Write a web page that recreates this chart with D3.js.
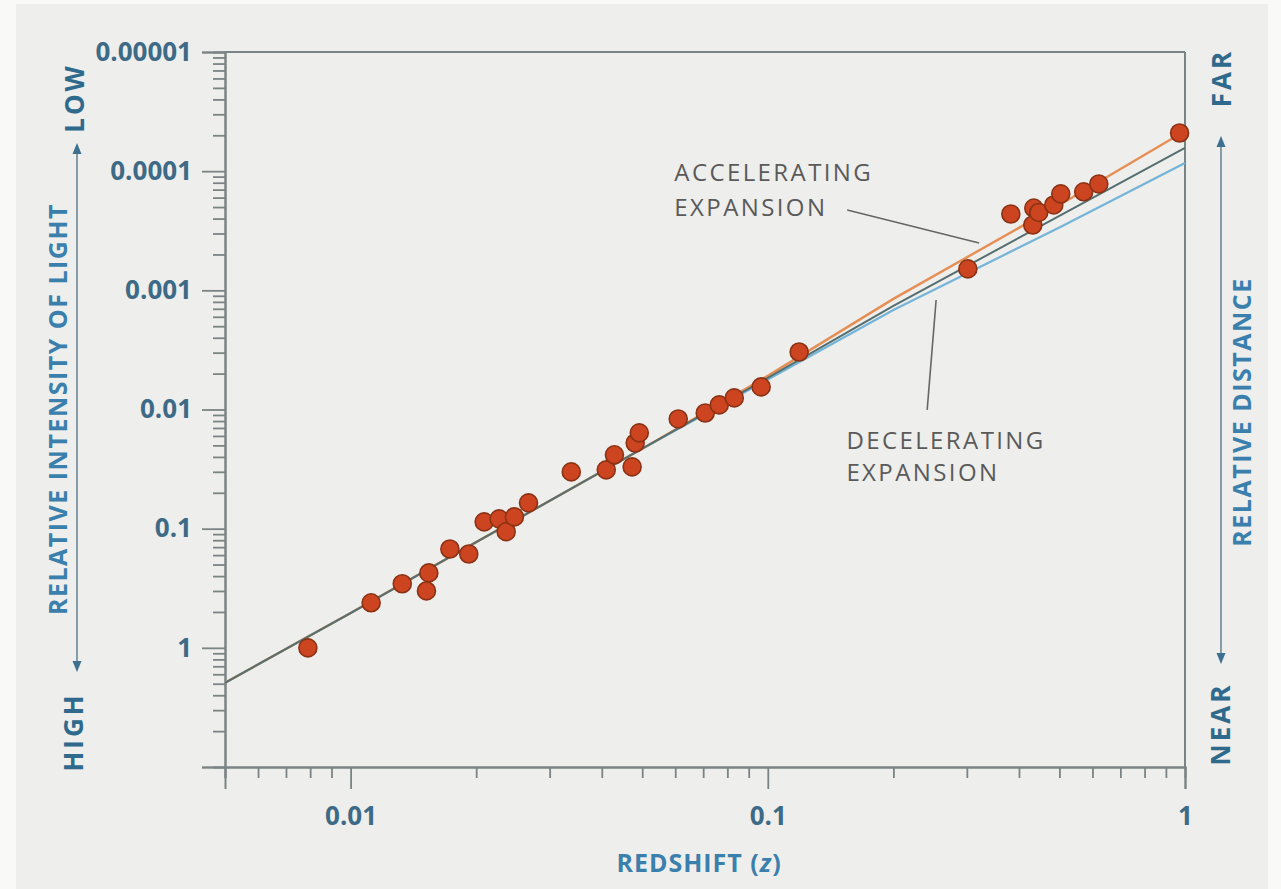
<!DOCTYPE html>
<html>
<head>
<meta charset="utf-8">
<script src="https://cdn.jsdelivr.net/npm/d3@7"></script>
<style>
  html, body { margin: 0; padding: 0; background: #f9f9f8; }
  svg { display: block; }
  text { font-family: "Open Sans", "Noto Sans", sans-serif; }
</style>
</head>
<body>
<svg id="chart" width="1281" height="889"></svg>
<script>
// ---------- DATA ----------
// Supernova observations: redshift z and relative intensity of light
const sneZ = [0.0079, 0.0112, 0.0133, 0.0154, 0.0152, 0.0173, 0.0192, 0.0209, 0.0227, 0.0236, 0.0247, 0.0267,
  0.0338, 0.0410, 0.0429, 0.0473, 0.0481, 0.0492, 0.0610, 0.0708, 0.0765, 0.0831, 0.0964, 0.1189,
  0.3016, 0.3824, 0.4317, 0.4341, 0.4462, 0.4847, 0.5037, 0.5718, 0.6214, 0.9706];
const sneI = [1.0, 0.419, 0.290, 0.235, 0.333, 0.148, 0.163, 0.0877, 0.0827, 0.106, 0.0796, 0.0607,
  0.0334, 0.0321, 0.0240, 0.0303, 0.0191, 0.0157, 0.0120, 0.0107, 0.00915, 0.00799, 0.00646, 0.00329,
  0.000661, 0.000229, 0.000283, 0.000204, 0.000222, 0.000192, 0.000155, 0.000149, 0.000128, 0.0000478];

// Model curves at these redshifts
const modelZ = [0.005, 0.01, 0.02, 0.05, 0.1, 0.2, 0.5, 1];
const accelI = [1.966, 0.5105, 0.1298, 0.02133, 0.005224, 0.00118, 0.000192, 0.0000460];
const middleI = [1.966, 0.5105, 0.1298, 0.02133, 0.005432, 0.001352, 0.0002375, 0.0000639];
const decelI = [1.966, 0.5105, 0.1298, 0.02133, 0.005592, 0.00146, 0.000297, 0.0000853];

// Axis ticks
const xMajorTicks = [0.01, 0.1, 1];
const xMajorLabels = ["0.01", "0.1", "1"];
const xMinorTicks = [0.005, 0.006, 0.007, 0.008, 0.009, 0.02, 0.03, 0.04, 0.05, 0.06, 0.07, 0.08, 0.09,
  0.2, 0.3, 0.4, 0.5, 0.6, 0.7, 0.8, 0.9];
const yMajorTicks = [10, 1, 0.1, 0.01, 0.001, 0.0001, 0.00001];
const yMajorLabels = ["", "1", "0.1", "0.01", "0.001", "0.0001", "0.00001"];
const yDecadeTops = [10, 1, 0.1, 0.01, 0.001, 0.0001];
const yMinorDivisors = [2, 3, 4, 5, 6, 7, 8, 9];

// ---------- LAYOUT ----------
const svg = d3.select("#chart");
svg.append("rect").attr("x", 16).attr("y", 4).attr("width", 1252).attr("height", 885).attr("fill", "#eeeeec");

const x = d3.scaleLog().domain([0.005, 1]).range([225, 1185]);
const y = d3.scaleLog().domain([10, 0.00001]).range([767, 52]);

const axisColor = "#7a8484";
const tickLabelColor = "#3d6a86";
const titleColor = "#3b80ad";
const annColor = "#5a5a5a";

// frame (top + right)
svg.append("line").attr("x1", x.range()[0]).attr("x2", x.range()[1]).attr("y1", y.range()[1]).attr("y2", y.range()[1])
  .attr("stroke", axisColor).attr("stroke-width", 2);
svg.append("line").attr("x1", x.range()[1]).attr("x2", x.range()[1]).attr("y1", y.range()[0]).attr("y2", y.range()[1])
  .attr("stroke", axisColor).attr("stroke-width", 2);

// Y axis
const yMinorTicks = [];
yDecadeTops.forEach(t => yMinorDivisors.forEach(k => yMinorTicks.push(t / k)));

const gyMinor = svg.append("g").attr("transform", `translate(${x.range()[0]},0)`)
  .call(d3.axisLeft(y).tickValues(yMinorTicks).tickSize(12).tickFormat(""));
const gyMajor = svg.append("g").attr("transform", `translate(${x.range()[0]},0)`)
  .call(d3.axisLeft(y).tickValues(yMajorTicks).tickSize(23).tickPadding(10)
    .tickFormat((d, i) => yMajorLabels[i]));

// X axis
const gxMinor = svg.append("g").attr("transform", `translate(0,${y.range()[0]})`)
  .call(d3.axisBottom(x).tickValues(xMinorTicks).tickSize(11).tickFormat(""));
const gxMajor = svg.append("g").attr("transform", `translate(0,${y.range()[0]})`)
  .call(d3.axisBottom(x).tickValues(xMajorTicks).tickSize(22).tickPadding(18)
    .tickFormat((d, i) => xMajorLabels[i]));

[gyMinor, gyMajor, gxMinor, gxMajor].forEach(g => {
  g.select(".domain").attr("stroke", axisColor).attr("stroke-width", 2);
  g.selectAll(".tick line").attr("stroke", axisColor).attr("stroke-width", 1.8);
  g.selectAll(".tick text").attr("fill", tickLabelColor).attr("font-size", 26).attr("font-weight", 700)
    .attr("font-family", '"Open Sans", sans-serif');
});

// ---------- MODEL LINES ----------
const line = d3.line().x(d => x(d[0])).y(d => y(d[1])).curve(d3.curveLinear);
const series = [
  { vals: decelI, color: "#74b4d8", w: 2.2 },
  { vals: accelI, color: "#e58e55", w: 2.4 },
  { vals: middleI, color: "#556f70", w: 2 }
];
series.forEach(s => {
  svg.append("path").datum(modelZ.map((z, i) => [z, s.vals[i]]))
    .attr("d", line).attr("fill", "none").attr("stroke", s.color).attr("stroke-width", s.w);
});

// ---------- POINTS ----------
svg.append("g").selectAll("circle").data(sneZ.map((z, i) => [z, sneI[i]])).join("circle")
  .attr("cx", d => x(d[0])).attr("cy", d => y(d[1])).attr("r", 9)
  .attr("fill", "#cc4420").attr("stroke", "#8a3214").attr("stroke-width", 1.6);

// ---------- ANNOTATIONS ----------
function ann(lines, tz, tv, lineGap, from, to) {
  const t = svg.append("text").attr("x", x(tz)).attr("y", y(tv)).attr("fill", annColor)
    .attr("font-size", 24).attr("letter-spacing", 2.4);
  lines.forEach((s, i) => t.append("tspan").attr("x", x(tz)).attr("dy", i === 0 ? 0 : lineGap).text(s));
  svg.append("line").attr("x1", x(from[0])).attr("y1", y(from[1])).attr("x2", x(to[0])).attr("y2", y(to[1]))
    .attr("stroke", "#666").attr("stroke-width", 1.6);
}
ann(["ACCELERATING", "EXPANSION"], 0.0597, 0.000121, 35, [0.155, 0.000212], [0.321, 0.0004]);
ann(["DECELERATING", "EXPANSION"], 0.1543, 0.0214, 32, [0.2532, 0.001204], [0.241, 0.01008]);

// ---------- AXIS TITLES ----------
svg.append("text").attr("x", 699).attr("y", 872).attr("text-anchor", "middle").attr("fill", titleColor)
  .attr("font-size", 25).attr("font-weight", 700).attr("letter-spacing", 1)
  .call(t => { t.append("tspan").text("REDSHIFT ("); t.append("tspan").attr("font-style", "italic").text("z"); t.append("tspan").text(")"); });

function vtext(str, cx, cy, size, color, ls) {
  svg.append("text").attr("transform", `translate(${cx},${cy}) rotate(-90)`).attr("text-anchor", "middle")
    .attr("dominant-baseline", "central").attr("fill", color).attr("font-size", size).attr("font-weight", 700)
    .attr("letter-spacing", ls).text(str);
}
vtext("RELATIVE INTENSITY OF LIGHT", 57, 409, 25, titleColor, 1.5);
vtext("LOW", 74, 98, 26, "#2f6a8c", 3);
vtext("HIGH", 73, 732, 26, "#2f6a8c", 3);
vtext("RELATIVE DISTANCE", 1241, 412, 25, titleColor, 1.5);
vtext("FAR", 1221, 78, 26, "#2f6a8c", 3);
vtext("NEAR", 1220, 724, 26, "#2f6a8c", 3);

// side arrows
function arrow(xp, y1, y2) {
  const c = "#3e6f8e";
  svg.append("line").attr("x1", xp).attr("x2", xp).attr("y1", y1 + 8).attr("y2", y2 - 8).attr("stroke", "#6d8799").attr("stroke-width", 1.6);
  svg.append("path").attr("d", `M${xp},${y1} L${xp - 4.5},${y1 + 11} L${xp + 4.5},${y1 + 11} Z`).attr("fill", c);
  svg.append("path").attr("d", `M${xp},${y2} L${xp - 4.5},${y2 - 11} L${xp + 4.5},${y2 - 11} Z`).attr("fill", c);
}
arrow(77, 143, 672);
arrow(1221, 136, 664);
</script>
</body>
</html>
